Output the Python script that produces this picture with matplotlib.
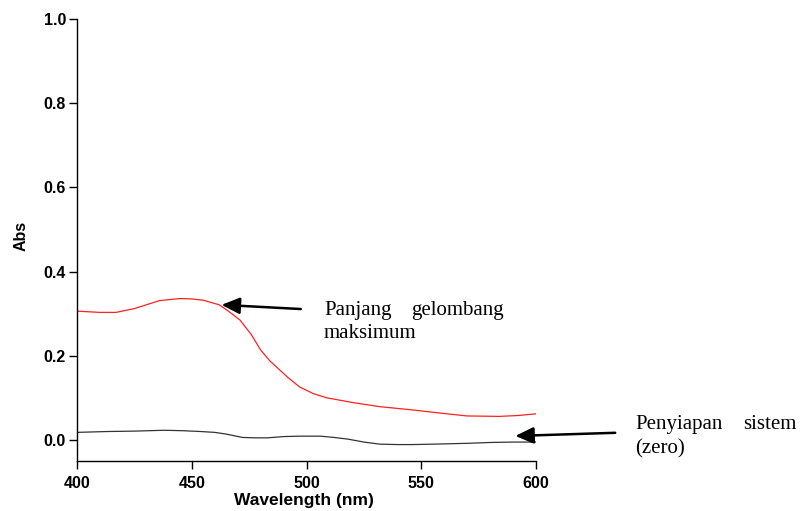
import matplotlib
matplotlib.use("Agg")
import matplotlib.pyplot as plt

# spektrum serapan
wl_red = [400, 410, 417, 425, 436, 445, 450, 455, 462, 466, 471, 476, 480, 484,
          487, 492, 497, 503, 509, 520, 532, 545, 558, 570, 584, 592, 600]
abs_red = [0.306, 0.303, 0.303, 0.312, 0.331, 0.336, 0.335, 0.332, 0.321, 0.306,
           0.285, 0.250, 0.214, 0.188, 0.173, 0.148, 0.126, 0.110, 0.100, 0.089,
           0.079, 0.072, 0.064, 0.057, 0.056, 0.058, 0.062]

wl_zero = [400, 413, 425, 438, 446, 454, 460, 465, 472, 478, 483, 490, 497, 506,
           512, 518, 525, 532, 540, 546, 555, 570, 580, 590, 600]
abs_zero = [0.018, 0.020, 0.021, 0.023, 0.022, 0.020, 0.018, 0.014, 0.006, 0.005,
            0.005, 0.008, 0.009, 0.009, 0.006, 0.002, -0.005, -0.010, -0.011,
            -0.011, -0.010, -0.008, -0.006, -0.005, -0.005]

xticks = [400, 450, 500, 550, 600]
yticks = [0.0, 0.2, 0.4, 0.6, 0.8, 1.0]

fig = plt.figure(figsize=(8.03, 5.11), dpi=100)
ax = fig.add_axes([77 / 803, 1 - 461 / 511, 459 / 803, 442 / 511])

ax.plot(wl_red, abs_red, color="#ff2020", lw=0.9)
ax.plot(wl_zero, abs_zero, color="#333333", lw=0.9)

ax.set_xlim(400, 600)
ax.set_ylim(-0.05, 1.0)
ax.set_xticks(xticks)
ax.set_yticks(yticks)
ax.set_yticklabels([f"{v:.1f}" for v in yticks])
for s in ("top", "right"):
    ax.spines[s].set_visible(False)
for s in ("left", "bottom"):
    ax.spines[s].set_linewidth(1.0)
ax.tick_params(direction="out", length=5.5, width=1.0, pad=2.5)
for lab in ax.get_xticklabels() + ax.get_yticklabels():
    lab.set_fontfamily("Liberation Sans")
    lab.set_fontweight("bold")
    lab.set_fontsize(11.5)
ax.tick_params(axis="x", pad=5)

ax.set_xlabel("Wavelength (nm)", family="Liberation Sans", weight="bold", fontsize=12.5)
ax.set_ylabel("Abs", family="Liberation Sans", weight="bold", fontsize=11.5)
ax.xaxis.set_label_coords(0.495, -0.072)
ax.yaxis.set_label_coords(-0.105, 0.51)

arrow = dict(arrowstyle="-|>,head_length=1.1,head_width=0.5", lw=1.8,
             color="black", mutation_scale=10, shrinkA=0, shrinkB=0)
ax.annotate("", xy=(463, 0.321), xytext=(497.5, 0.311), arrowprops=arrow,
            annotation_clip=False)
ax.annotate("", xy=(591, 0.0095), xytext=(634.5, 0.017), arrowprops=arrow,
            annotation_clip=False)

serif = dict(family="Liberation Serif", fontsize=15, va="baseline", clip_on=False)
# teks rata kanan-kiri seperti di dokumen aslinya
fig.text(324 / 803, 1 - 315 / 511, "Panjang", ha="left", **serif)
fig.text(504 / 803, 1 - 315 / 511, "gelombang", ha="right", **serif)
fig.text(324 / 803, 1 - 338 / 511, "maksimum", ha="left", **serif)
fig.text(635 / 803, 1 - 429 / 511, "Penyiapan", ha="left", **serif)
fig.text(797 / 803, 1 - 429 / 511, "sistem", ha="right", **serif)
fig.text(635 / 803, 1 - 453 / 511, "(zero)", ha="left", **serif)

fig.savefig("out.png", dpi=100)
